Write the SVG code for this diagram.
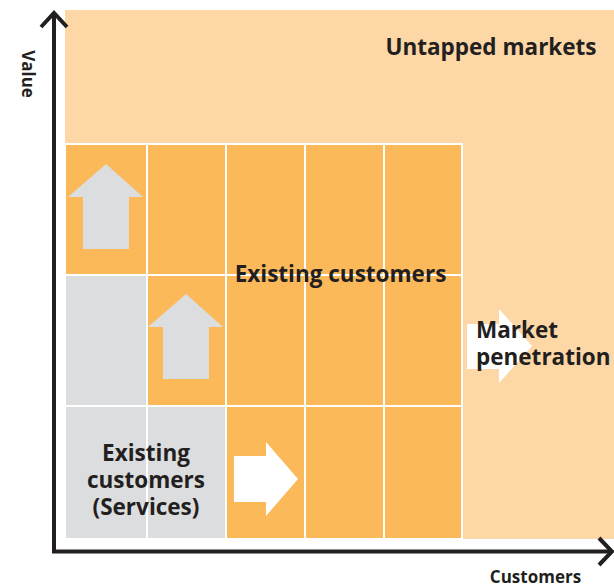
<svg xmlns="http://www.w3.org/2000/svg" width="614" height="587" viewBox="0 0 614 587">
<style>
.t{font-family:"Open Sans","Liberation Sans",sans-serif;font-weight:700;fill:#231f20}
.big{font-size:22.5px}
.ax{font-size:17px}
.o{fill:#fbb95a;stroke:#fff;stroke-width:2}
.g{fill:#dcdddf;stroke:#fff;stroke-width:2}
.axis{fill:none;stroke:#231f20;stroke-width:4}
</style>
<rect id="untapped" x="65" y="10" width="549" height="529" fill="#fdd7a5"/>
<g id="grid">
<rect class="o" x="65" y="144" width="82" height="131"/>
<rect class="o" x="147" y="144" width="79" height="131"/>
<rect class="o" x="226" y="144" width="79" height="131"/>
<rect class="o" x="305" y="144" width="79" height="131"/>
<rect class="o" x="384" y="144" width="78" height="131"/>
<rect class="g" x="65" y="275" width="82" height="131"/>
<rect class="o" x="147" y="275" width="79" height="131"/>
<rect class="o" x="226" y="275" width="79" height="131"/>
<rect class="o" x="305" y="275" width="79" height="131"/>
<rect class="o" x="384" y="275" width="78" height="131"/>
<rect class="g" x="65" y="406" width="82" height="133"/>
<rect class="g" x="147" y="406" width="79" height="133"/>
<rect class="o" x="226" y="406" width="79" height="133"/>
<rect class="o" x="305" y="406" width="79" height="133"/>
<rect class="o" x="384" y="406" width="78" height="133"/>
</g>
<g id="arrows">
<polygon fill="#dcdddf" points="106,164 143,197 129,197 129,249 83,249 83,197 68,197"/>
<polygon fill="#dcdddf" points="186,294 223,327 209,327 209,379 163,379 163,327 148,327"/>
<polygon fill="#fff" points="234,456 266,456 266,442 298,479 266,516 266,502 234,502"/>
<polygon fill="#fff" points="467,324 499,324 499,309 532,346 499,383 499,369 467,369"/>
</g>
<g id="axes">
<polyline class="axis" points="54,553 54,13"/>
<polyline class="axis" points="41,27 54,13 67,27"/>
<polyline class="axis" points="52,551.5 611,551.5"/>
<polyline class="axis" points="599,538 612,551.5 599,565"/>
</g>
<g id="labels">
<text class="t big" x="491" y="55" text-anchor="middle">Untapped markets</text>
<text class="t big" x="340.5" y="282" text-anchor="middle">Existing customers</text>
<text class="t big" x="476" y="338">Market</text>
<text class="t big" x="476" y="365">penetration</text>
<text class="t big" x="146" y="461" text-anchor="middle">Existing</text>
<text class="t big" x="146" y="488" text-anchor="middle">customers</text>
<text class="t big" x="146" y="515" text-anchor="middle">(Services)</text>
<text class="t ax" x="535.5" y="583" text-anchor="middle">Customers</text>
<text class="t ax" transform="translate(22,74) rotate(90)" text-anchor="middle">Value</text>
</g>
</svg>
